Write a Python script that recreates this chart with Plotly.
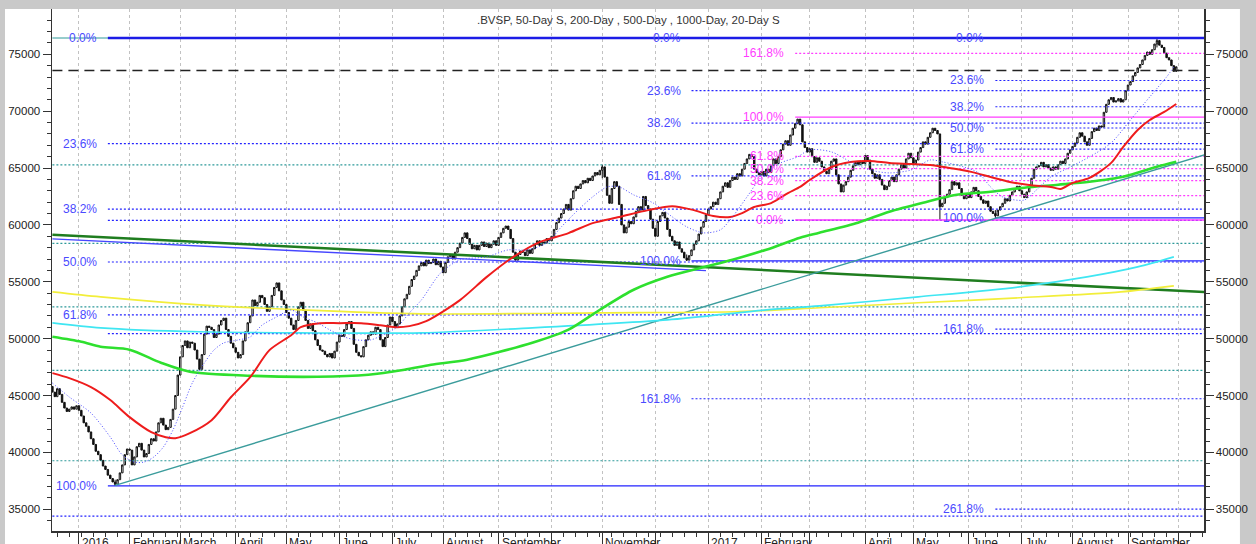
import pandas as pd
import plotly.graph_objects as go

# ---------------- data ----------------
START_DATE = "2015-12-17"          # first trading day shown (weekday calendar)
FIRST_OPEN = 45800

close = [
    45300, 44900, 45600, 45100, 44400, 43900, 43600, 43800, 44000, 43800, 44100, 43700,
    43200, 42600, 42300, 41800, 41200, 40700, 40100, 39800, 39300, 38800, 38500, 38000,
    37700, 37400, 37200, 37600, 38200, 38900, 39800, 40300, 40200, 38900, 39600, 40500,
    40800, 40200, 39600, 39900, 40700, 41200, 41000, 41800, 42600, 43000, 42400, 42000,
    42200, 42900, 43800, 45000, 46800, 48400, 49400, 49800, 49200, 49700, 49600, 49000,
    48200, 47300, 48600, 50400, 51100, 51000, 50800, 50100, 50400, 51200, 51600, 51800,
    50800, 50200, 49600, 49200, 48800, 48300, 48600, 49800, 50600, 51400, 52000, 53400,
    52900, 53200, 53800, 53600, 53000, 52400, 52800, 53800, 54500, 54900, 54200, 53400,
    53000, 52300, 51800, 51200, 50800, 51600, 52800, 53200, 52500, 51600, 50900, 51300,
    50700, 49900, 49400, 49000, 48900, 48600, 48400, 48700, 48300, 48900, 49700, 50300,
    50200, 50800, 51300, 51500, 50900, 49500, 48800, 48500, 48400, 49300, 49900, 50300,
    50600, 50400, 51000, 50800, 49900, 49300, 50100, 51200, 51900, 51500, 51000, 51300,
    52000, 52800, 53500, 53900, 54600, 55200, 55500, 56000, 56400, 56700, 56400, 56900,
    56600, 56700, 57000, 56500, 56800, 56300, 55800, 56700, 57200, 57400, 57000, 57600,
    58000, 58400, 58900, 59300, 58800, 58300, 57900, 58200, 57800, 58200, 58500, 58100,
    58400, 58000, 58300, 58600, 58200, 58900, 59300, 59700, 59900, 59600, 58800, 57600,
    56900, 57400, 57700, 57600, 57300, 57800, 57500, 57900, 58300, 58600, 58200, 58500,
    58400, 58800, 58600, 59000, 59600, 60200, 60600, 61000, 61400, 61800, 61300, 62300,
    63000, 63400, 63200, 63600, 63900, 63700, 64100, 63900, 64300, 64600, 64400, 64800,
    65100, 64200, 62600, 61900, 63200, 63800, 63400, 61800, 60000, 59300, 59800, 60300,
    60100, 60700, 61200, 61600, 61300, 62500, 61700, 61400, 60500, 59700, 59000, 60300,
    60800, 61100, 60600, 59600, 59000, 58600, 58200, 58500, 57900, 57600, 57100, 56900,
    57300, 57800, 58300, 58600, 59200, 59800, 60300, 60900, 61400, 61600, 62000, 61800,
    62300, 62900, 63400, 63700, 63300, 63900, 64200, 64000, 64500, 64300, 64900, 65400,
    65800, 66200, 66000, 64900, 64600, 64400, 64700, 64300, 64900, 64600, 65200, 65800,
    65400, 66000, 66600, 67100, 67400, 67000, 67900, 68500, 68900, 69300, 68800, 67300,
    66800, 66400, 66700, 66000, 65500, 65900, 65600, 65100, 64700, 64500, 64900, 65600,
    65800, 64400, 63600, 62900, 63500, 63800, 64200, 64800, 65200, 65500, 65300, 65600,
    65400, 66100, 65700, 64900, 64500, 64100, 64400, 64000, 63500, 63100, 63400, 63900,
    64200, 63800, 64400, 64900, 65300, 65000, 65800, 66300, 65900, 65400, 65700, 66400,
    66800, 67300, 67100, 67700, 68100, 68500, 68300, 68000, 61600, 61900, 62400, 62700,
    63100, 63800, 63500, 63700, 63200, 62600, 62300, 62700, 62400, 62900, 63300, 63000,
    62500, 62200, 61900, 62100, 61600, 61200, 61000, 60800, 61300, 61600, 61900, 62300,
    62100, 62600, 62900, 63200, 63400, 63000, 62700, 62400, 62900, 63300, 64100, 64900,
    65100, 65200, 65500, 65100, 65300, 65000, 64800, 65100, 64900, 65300, 65600, 65400,
    65800, 66300, 66600, 66900, 67200, 67700, 68100, 67800, 67300, 67000, 67600, 68200,
    68500, 68300, 68700, 68600, 69900, 70600, 71000, 71200, 70800, 70900, 71100, 70800,
    71000, 71800, 72300, 72600, 73100, 73400, 73800, 74100, 74500, 74900, 75200, 75000,
    75400, 75900, 76200, 75800, 75600, 75100, 74700, 74500, 74000, 73500, 73900,
]

# notable wick extremes (trading-day index, high, low)
wick_idx = [26, 228, 263, 368, 391, 458]
wick_high = [37600, 65300, 57400, 68000, 61300, 76430]
wick_low = [37050, 64100, 56830, 60430, 60610, 75600]

# moving averages sampled from the chart (trading-day index, value)
ma50_idx = [0, 7, 16, 24, 32, 41, 47, 51, 57, 66, 74, 82, 90, 99, 103, 111, 119, 128, 136, 142,
            148, 155, 169, 180, 191, 202, 214, 224, 235, 247, 257, 266, 274, 281, 286, 291, 298,
            305, 310, 314, 323, 331, 339, 347, 356, 364, 372, 381, 389, 397, 405, 414, 418, 423,
            430, 439, 444, 450, 455, 461, 466]
ma50_val = [46970, 46530, 45740, 44600, 43100, 41780, 41340, 41250, 41690, 42830, 44850, 46610,
            48990, 50300, 51010, 51360, 51360, 51360, 51180, 51010, 51100, 51540, 53390, 55410,
            57170, 58490, 59280, 60160, 60690, 61300, 61650, 61300, 60780, 60690, 61040, 61570,
            61920, 62800, 63340, 63950, 65090, 65530, 65620, 65440, 65360, 65270, 65000, 64660,
            64210, 63780, 63510, 63340, 63160, 63690, 64130, 65450, 66860, 68350, 69220, 69930,
            70630]

ma200_idx = [0, 12, 20, 32, 45, 57, 82, 110, 131, 146, 157, 172, 199, 214, 227, 241, 255, 269,
             282, 296, 310, 318, 334, 347, 361, 375, 389, 403, 417, 430, 444, 458, 466]
ma200_val = [50170, 49730, 49290, 49030, 47880, 47090, 46740, 46650, 46830, 47270, 47710, 48150,
             49640, 50790, 52540, 54300, 55440, 56230, 56940, 57820, 58870, 59310, 60190, 61160,
             61950, 62650, 62920, 63270, 63530, 63790, 64230, 65110, 65550]

ma20_idx = [0, 7, 16, 24, 29, 34, 38, 42, 46, 50, 54, 58, 63, 67, 71, 77, 82, 87, 93, 99, 104,
            110, 115, 121, 126, 132, 137, 143, 148, 153, 161, 169, 180, 189, 197, 205, 211, 218,
            224, 230, 235, 241, 249, 257, 263, 270, 277, 282, 288, 294, 302, 309, 314, 323, 331,
            339, 347, 356, 364, 369, 378, 384, 389, 394, 403, 408, 414, 422, 430, 439, 447, 455,
            462, 465]
ma20_val = [46100, 44870, 43460, 41350, 39770, 39150, 39150, 39590, 40470, 41970, 43990, 46100,
            47860, 49000, 49620, 49880, 50150, 51200, 51910, 52520, 51910, 51380, 50770, 50150,
            49890, 49890, 50330, 51030, 52260, 53400, 55780, 56920, 57190, 57800, 57800, 58420,
            59820, 61320, 62460, 63340, 63340, 62640, 61940, 60710, 59830, 59300, 59570, 60710,
            62460, 64220, 65450, 65980, 66600, 66420, 65540, 64830, 64570, 64830, 65710, 65540,
            65090, 64570, 63340, 62460, 62190, 63070, 64220, 65090, 65980, 67210, 69230, 71250,
            73010, 73890]

ma500_idx = [0, 20, 61, 103, 153, 227, 282, 318, 359, 401, 443, 465]
ma500_val = [54110, 53670, 52970, 52530, 52180, 52270, 52360, 52710, 53150, 53590, 54110, 54640]

ma1000_idx = [0, 20, 61, 103, 153, 199, 255, 296, 318, 359, 401, 429, 450, 465]
ma1000_val = [51390, 50950, 50600, 50510, 50510, 50950, 51650, 52530, 52880, 53670, 54550, 55430,
              56310, 57190]

# trend lines (index, value) end points
green_trend_idx, green_trend_val = [0, 479], [59140, 54090]
blue_trend_idx, blue_trend_val = [0, 271], [58770, 55980]
teal_trend_idx, teal_trend_val = [26, 479], [37100, 66240]

# Fibonacci drawings
SWING_HIGH = 76430
fibA_low, fibA_start = 37050, 23
fibA_ratios = [0.0, 23.6, 38.2, 50.0, 61.8, 100.0]
fibB_low, fibB_start = 56830, 265
fibB_ratios = [0.0, 23.6, 38.2, 61.8, 100.0, 161.8]
fibC_low, fibC_start = 60610, 391
fibC_ratios = [0.0, 23.6, 38.2, 50.0, 61.8, 100.0, 161.8, 261.8]
fibM_base, fibM_top, fibM_start = 60430, 69480, 308
fibM_ratios = [0.0, 23.6, 38.2, 50.0, 61.8, 100.0, 161.8]
teal_low = 29150
teal_ratios = [0.0, 23.6, 38.2, 50.0, 61.8, 78.6]
extra_blue_levels = [60400, 50450, 34400]
extra_blue_start = [23, 23, 0]
last_price = 73580

month_ticks = ["2016-01-01", "2016-02-01", "2016-03-01", "2016-04-01", "2016-05-02", "2016-06-01",
               "2016-07-01", "2016-08-01", "2016-09-01", "2016-10-03", "2016-11-01", "2016-12-01",
               "2017-01-02", "2017-02-01", "2017-03-01", "2017-04-03", "2017-05-01", "2017-06-01",
               "2017-07-03", "2017-08-01", "2017-09-01", "2017-10-02"]
month_labels = ["2016", "February", "March", "April", "May", "June", "July", "August", "September",
                "", "November", "", "2017", "February", "", "April", "May", "June", "July",
                "August", "September", ""]
ytick_vals = [35000, 40000, 45000, 50000, 55000, 60000, 65000, 70000, 75000]

TITLE = ".BVSP, 50-Day S, 200-Day , 500-Day , 1000-Day, 20-Day S"

# ---------------- build ----------------
cal = pd.bdate_range(START_DATE, periods=480)
dates = cal[:len(close)]
open_ = [FIRST_OPEN] + close[:-1]
high = [max(o, c) for o, c in zip(open_, close)]
low = [min(o, c) for o, c in zip(open_, close)]
for k, i in enumerate(wick_idx):
    high[i] = max(high[i], wick_high[k])
    low[i] = min(low[i], wick_low[k])

FONT = "Liberation Sans, Arial, sans-serif"
BLUE = "#2323ff"
BLUE_TXT = "#4a4aff"
MAG = "#ff3cff"
TEAL = "#2e9a9a"

fig = go.Figure()


def hline(val, i0, color, width, dash="solid"):
    fig.add_trace(go.Scatter(x=[cal[i0], cal[-1]], y=[val, val], mode="lines",
                             line=dict(color=color, width=width, dash=dash),
                             hoverinfo="skip", showlegend=False))


def label(text, i0, val, color):
    fig.add_annotation(x=cal[i0], y=val, xref="x", yref="y", text=text, showarrow=False,
                       xanchor="right", yanchor="middle", xshift=-9,
                       font=dict(family=FONT, size=12, color=color))


DOT = "2px,2px"

# teal fib (full width)
for r in teal_ratios:
    v = SWING_HIGH - r / 100 * (SWING_HIGH - teal_low)
    hline(v, 0, TEAL, 1 if r == 0 else 1.2, "solid" if r == 0 else DOT)

# extra blue dotted levels
for v, s in zip(extra_blue_levels, extra_blue_start):
    hline(v, s, BLUE, 1.2, DOT)

# black dashed current price
hline(last_price, 0, "#222222", 1.4, "10px,6px")

# fib sets A, B, C (blue)
for low_v, start, ratios in [(fibA_low, fibA_start, fibA_ratios),
                             (fibB_low, fibB_start, fibB_ratios),
                             (fibC_low, fibC_start, fibC_ratios)]:
    for r in ratios:
        v = SWING_HIGH - r / 100 * (SWING_HIGH - low_v)
        if r == 0:
            if start == fibA_start:
                hline(v, start, "#1c1ce6", 2.6)
        elif r == 100:
            hline(v, start, BLUE, 1.3)
        else:
            hline(v, start, BLUE, 1.2, DOT)
        label(f"{r:.1f}%", start, v, BLUE_TXT)

# magenta extension fib
for r in fibM_ratios:
    v = fibM_base + r / 100 * (fibM_top - fibM_base)
    if r in (0, 100):
        hline(v, fibM_start, MAG, 1.3)
    else:
        hline(v, fibM_start, MAG, 1.2, DOT)
    label(f"{r:.1f}%", fibM_start, v, MAG)

# trend lines
fig.add_trace(go.Scatter(x=[cal[i] for i in green_trend_idx], y=green_trend_val, mode="lines",
                         line=dict(color="#1f7d1f", width=2.6), hoverinfo="skip"))
fig.add_trace(go.Scatter(x=[cal[i] for i in blue_trend_idx], y=blue_trend_val, mode="lines",
                         line=dict(color="#4646ff", width=1.4), hoverinfo="skip"))
fig.add_trace(go.Scatter(x=[cal[i] for i in teal_trend_idx], y=teal_trend_val, mode="lines",
                         line=dict(color="#3b9c9c", width=1.4), hoverinfo="skip"))


# moving averages
def ma(idx, vals, color, width, dash="solid"):
    fig.add_trace(go.Scatter(x=[cal[i] for i in idx], y=vals, mode="lines",
                             line=dict(color=color, width=width, dash=dash, shape="spline",
                                       smoothing=0.8),
                             hoverinfo="skip"))


ma(ma500_idx, ma500_val, "#f2ee3a", 1.6)
ma(ma1000_idx, ma1000_val, "#3fe6f2", 1.6)
ma(ma200_idx, ma200_val, "#2ee02e", 2.6)
ma(ma50_idx, ma50_val, "#ee1c1c", 2.0)
ma(ma20_idx, ma20_val, "#4a4aff", 1.0, "1px,2px")

# candles
fig.add_trace(go.Candlestick(
    x=dates, open=open_, high=high, low=low, close=close,
    increasing=dict(line=dict(color="#111111", width=1), fillcolor="#ffffff"),
    decreasing=dict(line=dict(color="#111111", width=1), fillcolor="#111111"),
    whiskerwidth=0, hoverinfo="skip", showlegend=False))

# invisible trace for right axis
fig.add_trace(go.Scatter(x=[dates[0]], y=[50000], yaxis="y2", mode="markers",
                         marker=dict(opacity=0), hoverinfo="skip"))

for d, lab in zip(month_ticks, month_labels):
    if lab:
        fig.add_annotation(x=d, y=0, xref="x", yref="paper", text=lab, showarrow=False,
                           xanchor="left", yanchor="top", xshift=1, yshift=-3,
                           font=dict(family=FONT, size=12, color="#222222"))

fig.add_annotation(x=0.5, y=1, xref="paper", yref="paper", text=TITLE, showarrow=False,
                   xanchor="center", yanchor="top", yshift=-3,
                   font=dict(family=FONT, size=11.5, color="#333333"))

yr = [33090, 78980]
yax = dict(range=yr, tickvals=ytick_vals, tickformat="d", ticks="outside", ticklen=8,
           tickcolor="#333333", showline=True, linecolor="#333333", linewidth=1.5,
           showgrid=False, zeroline=False, automargin=False,
           minor=dict(ticks="outside", ticklen=4, dtick=1000, tick0=0, tickcolor="#333333"),
           tickfont=dict(family=FONT, size=11.5, color="#222222"), fixedrange=True)

fig.update_layout(
    width=1256, height=544, autosize=False,
    margin=dict(l=52, r=52, t=9, b=13, autoexpand=False),
    paper_bgcolor="#c9c9c9", plot_bgcolor="#ffffff",
    showlegend=False, hovermode=False, boxgap=0.15,
    font=dict(family=FONT, size=11, color="#222222"),
    xaxis=dict(type="date", range=["2015-12-16 20:00", "2017-10-16 12:00"],
               rangebreaks=[dict(bounds=["sat", "mon"])],
               rangeslider=dict(visible=False), automargin=False,
               tickvals=month_ticks, showticklabels=False, ticks="outside", ticklen=14,
               tickcolor="#333333", showline=True, linecolor="#333333", linewidth=1.5,
               showgrid=True, gridcolor="#c2c2c2", griddash="3px,3px", gridwidth=1,
               zeroline=False,
               minor=dict(ticks="outside", ticklen=4, tickcolor="#333333",
                          dtick=7 * 86400000, tick0="2015-12-21", showgrid=False)),
    yaxis=yax,
    yaxis2=dict(yax, overlaying="y", side="right", anchor="x"),
    shapes=[dict(type="rect", xref="paper", yref="paper", x0=-0.0408, x1=1.0312,
                 y0=-0.1, y1=1.0, fillcolor="#ffffff", line=dict(width=0), layer="below")],
)

fig.write_html("out.html",
               config={"displayModeBar": False, "staticPlot": True},
               post_script="document.body.style.margin='0';"
                           "document.body.style.overflow='hidden';")
